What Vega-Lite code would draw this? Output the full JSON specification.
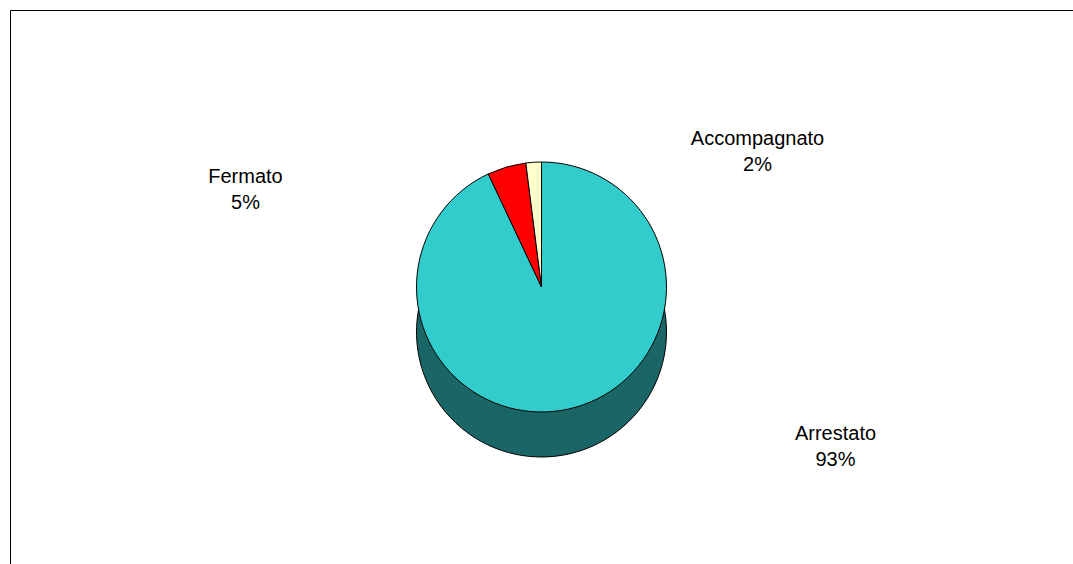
{
  "$schema": "https://vega.github.io/schema/vega-lite/v6.json",
  "autosize": {"type": "fit", "contains": "padding"},
  "width": 1073,
  "height": 564,
  "padding": {"left": 10, "top": 10, "right": 0, "bottom": 0},
  "background": "white",
  "view": {"stroke": "black", "strokeWidth": 1},
  "data": {
    "values": [
      {"stato": "Arrestato", "pct": 93, "ord": 1, "label": ["Arrestato", "93%"]},
      {"stato": "Fermato", "pct": 5, "ord": 2, "label": ["Fermato", "5%"]},
      {"stato": "Accompagnato", "pct": 2, "ord": 3, "label": ["Accompagnato", "2%"]}
    ]
  },
  "encoding": {
    "theta": {"field": "pct", "type": "quantitative", "stack": true},
    "order": {"field": "ord", "type": "quantitative"}
  },
  "layer": [
    {
      "mark": {"type": "arc", "outerRadius": 125, "fill": "#1A6666", "stroke": "black", "strokeWidth": 1, "yOffset": 45}
    },
    {
      "mark": {"type": "arc", "outerRadius": 125, "stroke": "black", "strokeWidth": 1},
      "encoding": {
        "color": {
          "field": "stato",
          "type": "nominal",
          "scale": {"domain": ["Arrestato", "Fermato", "Accompagnato"], "range": ["#33CCCC", "#FF0000", "#FFFFCC"]},
          "legend": null
        }
      }
    },
    {
      "transform": [{"filter": "datum.stato === 'Fermato'"}],
      "mark": {"type": "text", "radius": 0, "dx": -296, "dy": -110, "font": "Liberation Sans", "fontSize": 20, "color": "black", "lineHeight": 26},
      "encoding": {"text": {"field": "label"}}
    },
    {
      "transform": [{"filter": "datum.stato === 'Accompagnato'"}],
      "mark": {"type": "text", "radius": 0, "dx": 216, "dy": -148, "font": "Liberation Sans", "fontSize": 20, "color": "black", "lineHeight": 26},
      "encoding": {"text": {"field": "label"}}
    },
    {
      "transform": [{"filter": "datum.stato === 'Arrestato'"}],
      "mark": {"type": "text", "radius": 0, "dx": 294, "dy": 147, "font": "Liberation Sans", "fontSize": 20, "color": "black", "lineHeight": 26},
      "encoding": {"text": {"field": "label"}}
    }
  ]
}
